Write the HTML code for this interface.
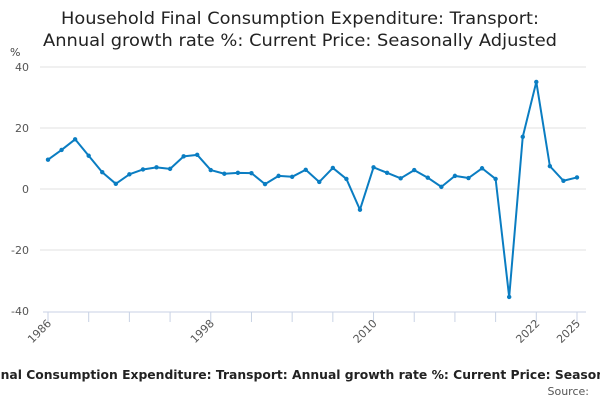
<!DOCTYPE html>
<html><head><meta charset="utf-8"><style>
body{margin:0;background:#fff;width:600px;height:400px;overflow:hidden}
svg{display:block;font-family:"DejaVu Sans","Liberation Sans",sans-serif}
</style></head><body>
<svg id="chart" width="600" height="400">
<text x="300" y="24" text-anchor="middle" font-size="17" fill="#222" textLength="478" lengthAdjust="spacingAndGlyphs">Household Final Consumption Expenditure: Transport:</text>
<text x="300" y="46" text-anchor="middle" font-size="17" fill="#222" textLength="514" lengthAdjust="spacingAndGlyphs">Annual growth rate %: Current Price: Seasonally Adjusted</text>
<text x="10" y="56" font-size="11" fill="#444">%</text>
<g id="grid"></g><g id="xaxis"></g><g id="series"></g>
<text x="303" y="379" text-anchor="middle" font-size="12" font-weight="bold" fill="#222" textLength="786" lengthAdjust="spacingAndGlyphs">Household Final Consumption Expenditure: Transport: Annual growth rate %: Current Price: Seasonally Adjusted</text>
<text x="589" y="395" text-anchor="end" font-size="11" fill="#555">Source:</text>
</svg>
<script>
const years=[1986,1987,1988,1989,1990,1991,1992,1993,1994,1995,1996,1997,1998,1999,2000,2001,2002,2003,2004,2005,2006,2007,2008,2009,2010,2011,2012,2013,2014,2015,2016,2017,2018,2019,2020,2021,2022,2023,2024,2025];
const values=[9.6,12.8,16.3,10.9,5.5,1.7,4.8,6.4,7.1,6.6,10.7,11.2,6.2,5.0,5.3,5.2,1.6,4.3,4.0,6.3,2.3,6.9,3.3,-6.8,7.1,5.3,3.5,6.2,3.7,0.7,4.3,3.6,6.8,3.3,-35.4,17.1,35.1,7.5,2.7,3.8];
const yTicks=[40,20,0,-20,-40];
const xLabels=[1986,1998,2010,2022,2025];
const NS="http://www.w3.org/2000/svg";
const x0=48,x1=577,yTop=67,yBot=311;
function xs(yr){return x0+(yr-years[0])/(years[years.length-1]-years[0])*(x1-x0);}
function ys(v){return yTop+(40-v)/80*(yBot-yTop);}
function mk(tag,attrs,parent){const e=document.createElementNS(NS,tag);for(const k in attrs)e.setAttribute(k,attrs[k]);parent.appendChild(e);return e;}
const grid=document.getElementById('grid'),xa=document.getElementById('xaxis'),se=document.getElementById('series');
yTicks.forEach(v=>{
 if(v>-40){const l=mk('line',{x1:40,x2:586,y1:ys(v),y2:ys(v),stroke:'#e2e2e2','stroke-width':1},grid);
 
 }
 const t=mk('text',{x:29,y:ys(v)+4,'text-anchor':'end','font-size':11,fill:'#555'},grid);
 t.textContent=v;
 
 
});
const ax=mk('line',{x1:43,x2:586,y1:312,y2:312,stroke:'#c8d2e4','stroke-width':1},xa);


for(let yr=years[0];yr<=years[years.length-1];yr+=3){
 const tk=mk('line',{x1:xs(yr),x2:xs(yr),y1:312,y2:322,stroke:'#c8d2e4','stroke-width':1},xa);
 
 
}
xLabels.forEach(yr=>{
 const t=mk('text',{x:xs(yr)+4,y:324,'text-anchor':'end','font-size':11,fill:'#555',transform:'rotate(-45 '+(xs(yr)+4)+' 324)'},xa);
 t.textContent=yr;
 
 
});
const pts=years.map((yr,i)=>xs(yr)+','+ys(values[i])).join(' ');
const pl=mk('polyline',{points:pts,fill:'none',stroke:'#0a7dc2','stroke-width':2,'stroke-linejoin':'round'},se);


years.forEach((yr,i)=>{
 const c=mk('circle',{cx:xs(yr),cy:ys(values[i]),r:2.2,fill:'#0a7dc2'},se);
 
 
});
</script>
</body></html>
